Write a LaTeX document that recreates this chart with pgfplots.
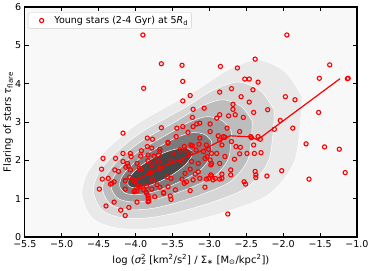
\documentclass[border=0pt]{standalone}
\usepackage{fontspec}
\setmainfont{DejaVu Sans}
\usepackage{pgfplots}
\pgfplotsset{compat=1.18}
\definecolor{bgc}{HTML}{F8F8F8}
\definecolor{ca}{HTML}{E9E9E9}
\definecolor{cb}{HTML}{D6D6D6}
\definecolor{cc}{HTML}{BDBDBD}
\definecolor{cd}{HTML}{9F9F9F}
\definecolor{ce}{HTML}{7B7B7B}
\definecolor{cf}{HTML}{474747}
\begin{document}
\begin{tikzpicture}
\begin{axis}[
  scale only axis, width=332.2pt, height=230pt,
  xmin=-5.5, xmax=-1.0, ymin=0, ymax=6,
  xtick={-5.5,-5,-4.5,-4,-3.5,-3,-2.5,-2,-1.5,-1},
  xticklabels={−5.5,−5.0,−4.5,−4.0,−3.5,−3.0,−2.5,−2.0,−1.5,−1.0},
  ytick={0,1,2,3,4,5,6}, yticklabels={0,1,2,3,4,5,6},
  tick align=inside, major tick length=4.5pt,
  every tick/.style={black, line width=0.9pt},
  axis line style={line width=1.1pt},
  axis background/.style={fill=bgc},
  tick label style={font=\fontsize{9.5}{11}\selectfont},
  label style={font=\fontsize{11.5}{13}\selectfont},
  every axis x label/.style={at={(axis description cs:0.5,-0.10)}, anchor=center},
  every axis y label/.style={at={(axis description cs:-0.050,0.5)}, rotate=90, anchor=center},
  xlabel={log ({\itshape σ}\textsuperscript{2}\llap{\textsubscript{\itshape z}} [km\textsuperscript{2}/s\textsuperscript{2}] / Σ\textsubscript{∗} [M\textsubscript{⊙}/kpc\textsuperscript{2}])},
  ylabel={Flaring of stars {\itshape τ}\textsubscript{flare}},
  legend style={at={(0.0096,0.976)}, anchor=north west, draw=black!20, rounded corners=2pt, fill=white, font=\fontsize{9.5}{11}\selectfont, inner sep=1.5pt},
  legend cell align=left,
  legend image code/.code={\path[draw=none, fill=none] (0cm,0cm) -- (0.8cm,0cm); \draw[#1, only marks] plot coordinates {(0.42cm,0cm)};},
]
% KDE contours
\addplot[fill=ca, draw=white, line width=0.5pt, smooth, forget plot] coordinates {
(-1.744,3.66) (-1.974,4.31) (-2.340,4.62) (-2.747,4.36) (-3.194,3.81) (-3.939,3.00) (-4.373,2.32) (-4.644,1.70)
(-4.725,1.10) (-4.589,0.50) (-4.277,0.24) (-3.843,0.21) (-3.397,0.34) (-2.787,0.65) (-2.204,1.10) (-1.839,2.01) (-1.744,3.66)} --cycle;
\addplot[fill=cb, draw=white, line width=0.5pt, smooth, forget plot] coordinates {
(-2.118,3.305) (-2.306,3.811) (-2.610,4.042) (-2.954,3.826) (-3.332,3.377) (-3.931,2.722) (-4.287,2.161) (-4.507,1.650)
(-4.569,1.165) (-4.452,0.697) (-4.188,0.503) (-3.824,0.501) (-3.446,0.636) (-2.949,0.916) (-2.481,1.304) (-2.190,2.033) (-2.118,3.305)} --cycle;
\addplot[fill=cc, draw=white, line width=0.5pt, smooth, forget plot] coordinates {
(-2.417,3.021) (-2.571,3.411) (-2.826,3.579) (-3.120,3.399) (-3.442,3.030) (-3.924,2.499) (-4.218,2.034) (-4.398,1.609)
(-4.444,1.217) (-4.342,0.854) (-4.117,0.714) (-3.808,0.735) (-3.486,0.872) (-3.079,1.128) (-2.702,1.467) (-2.471,2.051) (-2.417,3.021)} --cycle;
\addplot[fill=cd, draw=white, line width=0.5pt, smooth, forget plot] coordinates {
(-2.701,2.752) (-2.823,3.032) (-3.031,3.140) (-3.278,2.994) (-3.547,2.701) (-3.918,2.288) (-4.153,1.913) (-4.294,1.571)
(-4.326,1.266) (-4.237,1.004) (-4.049,0.914) (-3.793,0.956) (-3.523,1.097) (-3.202,1.330) (-2.912,1.622) (-2.738,2.069) (-2.701,2.752)} --cycle;
\addplot[fill=ce, draw=white, line width=0.5pt, smooth, forget plot] coordinates {
(-2.970,2.496) (-3.062,2.672) (-3.225,2.723) (-3.427,2.609) (-3.647,2.389) (-3.912,2.087) (-4.091,1.798) (-4.195,1.534)
(-4.213,1.312) (-4.138,1.145) (-3.985,1.103) (-3.779,1.166) (-3.559,1.310) (-3.318,1.522) (-3.112,1.769) (-2.990,2.085) (-2.970,2.496)} --cycle;
\addplot[fill=cf, draw=white, line width=0.5pt, smooth, forget plot] coordinates {
(-3.239,2.241) (-3.301,2.313) (-3.419,2.307) (-3.576,2.225) (-3.746,2.077) (-3.906,1.887) (-4.029,1.684) (-4.097,1.498)
(-4.101,1.359) (-4.039,1.287) (-3.921,1.293) (-3.765,1.376) (-3.594,1.523) (-3.435,1.713) (-3.311,1.916) (-3.243,2.102) (-3.239,2.241)} --cycle;
% scatter
\addplot[only marks, mark=o, mark size=2.1pt, red, mark options={line width=1.1pt}] coordinates {
(-3.90,5.27) (-1.95,5.27) (-3.65,4.52) (-3.37,4.48) (-2.85,4.45) (-2.62,4.41) (-2.38,4.64) (-1.37,4.49)
(-1.51,4.14) (-1.13,4.13) (-1.12,4.14) (-3.89,3.88) (-3.36,4.06) (-2.52,4.12) (-2.46,4.12) (-2.34,4.04)
(-3.36,3.55) (-3.26,3.69) (-2.86,3.78) (-2.70,3.87) (-2.41,3.84) (-2.57,3.66) (-1.97,3.66) (-1.84,3.58)
(-2.46,3.52) (-3.22,3.33) (-3.07,3.36) (-2.68,3.46) (-2.68,3.33) (-2.21,3.32) (-1.52,3.25) (-3.23,3.12)
(-2.86,3.19) (-2.74,3.16) (-2.65,3.19) (-2.54,3.12) (-2.40,3.25) (-2.04,3.04) (-1.87,2.84) (-2.12,2.81)
(-2.90,3.10) (-2.99,2.95) (-3.17,2.95) (-3.13,2.97) (-2.76,2.84) (-2.99,2.75) (-2.88,2.64) (-2.81,2.62)
(-2.59,2.75) (-2.44,2.62) (-2.34,2.62) (-4.17,2.71) (-3.65,2.85) (-3.44,2.84) (-3.36,2.88) (-3.77,2.55)
(-3.29,2.73) (-3.22,2.88)
(-1.69,2.43) (-1.44,2.35) (-1.24,2.29) (-1.16,1.68) (-1.65,1.51) (-2.02,1.73) (-2.22,1.59) (-2.38,1.71)
(-2.37,1.62) (-2.37,1.55) (-2.53,1.44) (-2.51,1.38) (-2.75,0.60)
(-2.40,2.40) (-2.64,2.36) (-2.58,2.34) (-2.66,2.03) (-2.59,2.17) (-2.49,2.18) (-2.39,2.18) (-2.30,2.20)
(-2.79,2.60) (-2.43,2.59) (-2.31,2.55) (-2.86,2.53) (-3.01,2.29) (-2.97,2.18) (-2.71,1.62) (-2.71,1.75)
(-2.83,1.64) (-2.83,1.53) (-3.01,1.53) (-2.92,1.53) (-3.08,2.23) (-3.03,2.10) (-2.99,2.01) (-2.70,2.49)
(-3.13,2.58) (-3.34,2.36) (-3.23,2.38) (-3.33,2.27) (-3.18,2.27) (-3.37,1.97) (-3.24,1.97) (-3.15,1.92)
(-2.97,1.92) (-2.98,1.62) (-2.95,1.49) (-2.86,1.51) (-3.04,1.51) (-3.13,1.53) (-3.19,1.64) (-3.22,1.49)
(-3.31,1.44) (-3.33,1.66) (-3.06,1.30) (-3.26,1.21)
(-4.45,1.51) (-4.34,1.38) (-4.29,1.44) (-4.49,1.25) (-4.40,0.81) (-4.29,0.91) (-4.20,0.70) (-4.09,0.77)
(-4.14,0.56) (-3.98,0.91) (-4.14,1.47) (-4.03,1.47) (-3.96,1.33) (-4.01,1.21) (-3.89,1.23) (-3.85,1.14)
(-3.85,1.33) (-3.78,1.25) (-3.83,1.01) (-3.82,0.94) (-3.74,1.05) (-3.71,1.36) (-3.62,1.14) (-3.53,1.07)
(-3.52,0.98) (-3.46,1.23) (-3.34,1.40) (-4.14,1.25) (-4.02,1.18)
(-4.17,2.18) (-4.06,2.10) (-4.27,2.05) (-4.44,2.05) (-4.46,1.77) (-4.11,1.92) (-4.13,1.82) (-4.28,1.75)
(-4.23,1.71) (-4.37,1.53) (-4.32,1.40)
(-3.84,2.36) (-3.56,2.45) (-3.25,2.40) (-3.04,2.40) (-3.92,2.25) (-3.93,2.11) (-3.83,2.14) (-3.67,2.23)
(-3.69,2.14) (-3.83,1.99) (-3.69,1.97) (-3.98,1.92) (-4.10,1.85) (-4.07,1.75) (-3.93,1.77) (-3.57,1.57)
(-3.52,1.53) (-4.01,1.44) (-3.94,1.31) (-3.98,1.20) (-3.86,1.18) (-3.83,1.07) (-3.83,0.92) (-3.62,1.16)
(-3.45,2.62) (-3.56,2.47) (-3.84,2.58) (-3.14,2.42) (-2.83,2.40) (-3.78,2.32) (-3.67,2.29) (-3.40,2.27)
(-3.26,2.18) (-3.49,2.18) (-3.52,1.98) (-3.75,2.11) (-4.07,2.18) (-4.17,1.97) (-3.78,1.88) (-3.95,1.79)
(-3.80,1.68) (-3.67,1.79) (-3.06,2.05) (-2.90,2.18) (-2.79,2.10) (-2.86,1.92) (-2.97,1.59) (-3.15,1.70)
(-3.26,1.77) (-3.37,1.51) (-3.56,1.31) (-3.67,1.30) (-3.77,1.49) (-4.08,1.56) (-2.98,1.88)
};
\addlegendentry{Young stars (2-4 Gyr) at 5{\itshape R}\textsubscript{d}}
% binned trend line
\addplot[red, line width=1.2pt, forget plot] coordinates {
(-4.17,1.51) (-3.97,1.51) (-3.64,1.83) (-3.15,2.21) (-2.72,2.64) (-2.42,2.61) (-2.35,2.53) (-1.23,4.13)};
\end{axis}
\pgfresetboundingbox
\path[use as bounding box] ([shift={(-24.8pt,-33pt)}]current axis.south west) rectangle ([shift={(17pt,7pt)}]current axis.north east);
\end{tikzpicture}
\end{document}
